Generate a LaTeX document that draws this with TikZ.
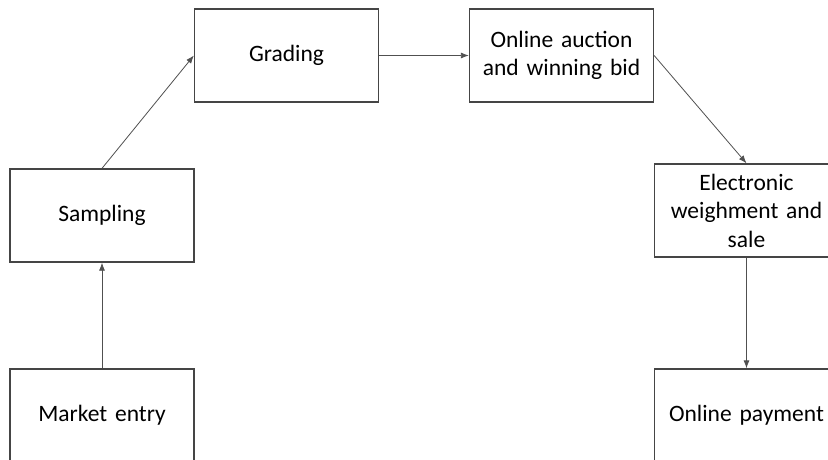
\documentclass[tikz,border=0pt]{standalone}
\usepackage{fontspec}
\setmainfont{Carlito}
\usetikzlibrary{arrows.meta}
\definecolor{boxline}{HTML}{454545}
\definecolor{arrline}{HTML}{505050}
\begin{document}
\begin{tikzpicture}[x=1pt,y=1pt,
  stepbox/.style={draw=boxline, line width=1.3pt, fill=white, minimum width=184pt, minimum height=93pt,
    text width=172pt, align=center, inner sep=0pt, text=black,
    font=\fontsize{23.5}{28.5}\selectfont},
  conn/.style={draw=arrline, line width=0.8pt, -{Latex[length=8pt,width=6pt]}}]
\useasboundingbox (0,0) rectangle (828,-459);
\fill[white] (0,0) rectangle (828,-459);
\clip (0,0) rectangle (828,-459);
\node[stepbox] (me) at (102,-415.5) {Market entry};
\node[stepbox] (sa) at (102,-215.5) {Sampling};
\node[stepbox] (gr) at (286.5,-55.5) {Grading};
\node[stepbox] (oa) at (561.5,-55.5) {Online auction\\and winning bid};
\node[stepbox] (ew) at (746.5,-210.5) {Electronic\\weighment and\\sale};
\node[stepbox] (op) at (746.5,-415.5) {Online payment};
\draw[conn] (me.north) -- (sa.south);
\draw[conn] (sa.north) -- (gr.west);
\draw[conn] (gr.east) -- (oa.west);
\draw[conn] (oa.east) -- (ew.north);
\draw[conn] (ew.south) -- (op.north);
\end{tikzpicture}
\end{document}
